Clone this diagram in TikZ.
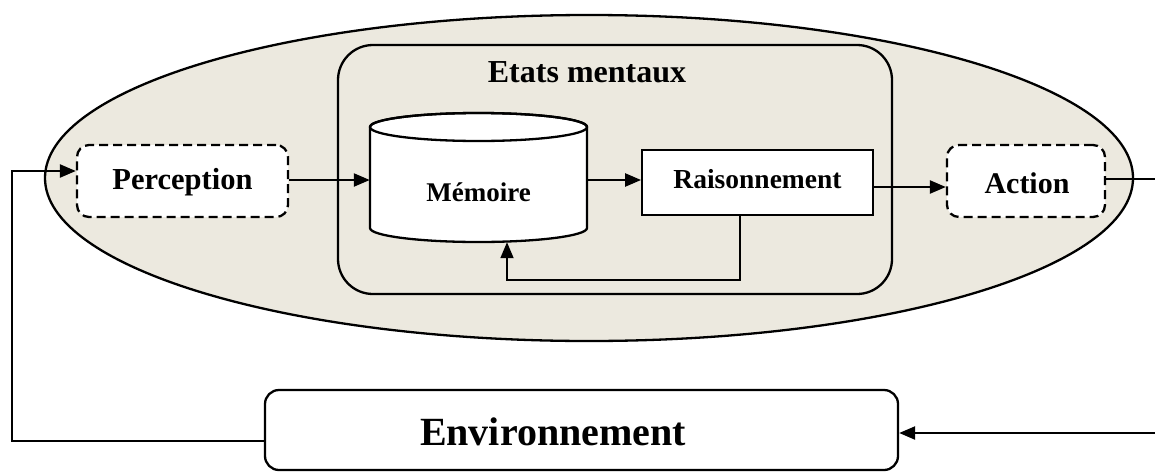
\documentclass[tikz,border=0pt]{standalone}
\usepackage{fontspec}
\setmainfont{Liberation Serif}
\usetikzlibrary{arrows.meta,shapes.geometric}
\definecolor{beige}{HTML}{ECE9DF}
\tikzset{
  line/.style={line width=2.3pt, draw=black},
  arr/.style={line, -{Triangle[length=16pt,width=13pt]}},
  dashbox/.style={draw=black, line width=2.3pt, dash pattern=on 9pt off 5pt, fill=white, rounded corners=12pt, inner sep=0pt},
  lbl/.style={font=\bfseries, inner sep=0pt, anchor=center},
}
\begin{document}
\begin{tikzpicture}[x=1pt,y=-1pt]
\useasboundingbox (0,0) rectangle (1155,471);
% outer ellipse (agent)
\node[draw=black, line width=2.3pt, fill=beige, ellipse, minimum width=1088pt, minimum height=326pt, inner sep=0pt] (agent) at (589,178) {};
% mental states box
\node[draw=black, line width=2.3pt, fill=beige, rounded corners=35pt, minimum width=554pt, minimum height=249pt, inner sep=0pt] (etats) at (615,169.5) {};
\node[lbl, font=\bfseries\fontsize{32}{36}\selectfont] (etatstxt) at (587,72) {Etats mentaux};
% memory cylinder
\draw[line, fill=white] (370,127) -- (370,228) arc[start angle=180, end angle=0, x radius=108.5, y radius=14] -- (587,127) arc[start angle=0, end angle=-180, x radius=108.5, y radius=14] -- cycle;
\draw[line] (478.5,127) ellipse[x radius=108.5, y radius=14];
\node[minimum width=217pt, minimum height=129pt, inner sep=0pt] (mem) at (478.5,177.5) {};
\node[lbl, font=\bfseries\fontsize{27}{30}\selectfont] (memtxt) at (478.5,192) {Mémoire};
% reasoning
\node[draw=black, line width=1.8pt, fill=white, minimum width=231pt, minimum height=65pt, inner sep=0pt] (rais) at (757.5,182.5) {};
\node[lbl, font=\bfseries\fontsize{27.5}{30}\selectfont] (raistxt) at (757.5,179) {Raisonnement};
% perception and action
\node[dashbox, minimum width=211pt, minimum height=72pt] (perc) at (182.5,181) {};
\node[lbl, font=\bfseries\fontsize{30.5}{34}\selectfont] (perctxt) at (182.5,182) {Perception};
\node[dashbox, minimum width=158pt, minimum height=72pt] (act) at (1026,181) {};
\node[lbl, font=\bfseries\fontsize{30}{34}\selectfont] (acttxt) at (1027,183) {Action};
% environment
\node[draw=black, line width=2.3pt, fill=white, rounded corners=14pt, minimum width=633pt, minimum height=80pt, inner sep=0pt] (env) at (581.5,430) {};
\node[lbl, font=\bfseries\fontsize{40}{44}\selectfont] (envtxt) at (553,432) {Environnement};
% helper coordinates
\coordinate (yin) at (0,171);
\coordinate (yrm) at (0,180);
\coordinate (yra) at (0,187);
\coordinate (yout) at (0,179);
\coordinate (fbl) at (0,280);
\coordinate (xfb) at (740,0);
\coordinate (xfbm) at (507,0);
\coordinate (lcorner) at (12,441);
\coordinate (rtop) at (1155,179);
\coordinate (rbot) at (1155,433);
% connectors
\draw[arr] (env.west |- lcorner) -- (lcorner) |- (perc.west |- yin);
\draw[arr] (perc.east |- yrm) -- (mem.west |- yrm);
\draw[arr] (mem.east |- yrm) -- (rais.west |- yrm);
\draw[arr] (rais.east |- yra) -- (act.west |- yra);
\draw[line] (act.east |- yout) -- (rtop);
\draw[arr] (rbot) -- (env.east |- rbot);
\draw[arr, line width=1.8pt] (rais.south -| xfb) -- (xfb |- fbl) -| (mem.south -| xfbm);
\end{tikzpicture}
\end{document}
